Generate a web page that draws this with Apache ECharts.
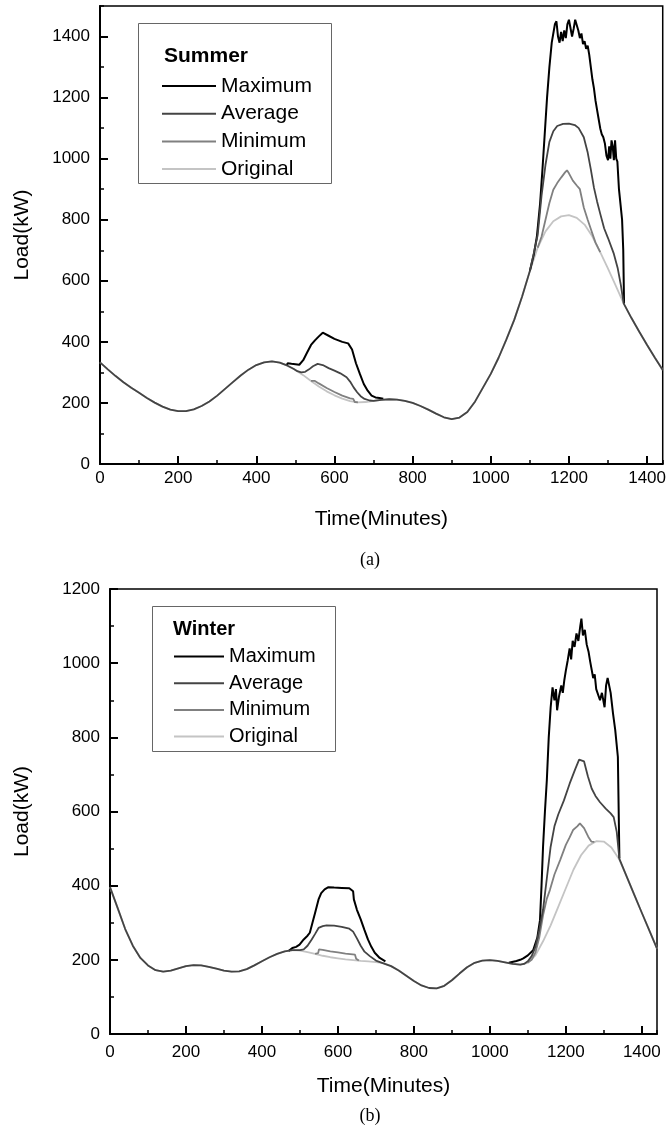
<!DOCTYPE html>
<html>
<head>
<meta charset="utf-8">
<script src="https://cdn.jsdelivr.net/npm/echarts@6/dist/echarts.min.js"></script>
<style>
html,body{margin:0;padding:0;background:#fff;}
#chart{width:669px;height:1126px;}
</style>
</head>
<body>
<div id="chart"></div>
<script>
// ---------- DATA ----------
const xTickLabels = ['0','200','400','600','800','1000','1200','1400'];
const seriesNames = ['Maximum','Average','Minimum','Original'];

// Summer (a)
const summerOrigT = [0,20,40,60,80,100,120,140,160,180,200,220,240,260,280,300,320,340,360,380,400,420,440,460,480,500,520,540,560,580,600,620,640,660,680,700,720,740,760,780,800,820,840,860,880,900,920,940,960,980,1000,1020,1040,1060,1080,1100,1120,1140,1160,1180,1200,1220,1240,1260,1280,1300,1320,1340,1360,1380,1400,1420,1440];
const summerOrigV = [333,310,288,268,250,233,216,201,188,178,173,173,179,190,205,224,246,268,290,309,324,333,336,332,322,308,291,272,254,238,225,214,206,202,203,207,210,212,211,207,200,190,178,165,153,147,152,170,205,250,295,348,408,472,548,632,708,762,795,811,815,806,784,745,694,640,583,526,478,433,390,348,308];

const summerAvgT = [0,20,40,60,80,100,120,140,160,180,200,220,240,260,280,300,320,340,360,380,400,420,440,460,480,495,505,515,525,535,545,557,570,585,600,615,631,640,649,658,667,677,690,700,720,740,760,780,800,820,840,860,880,900,920,940,960,980,1000,1020,1040,1060,1080,1100,1110,1120,1130,1140,1150,1160,1170,1185,1200,1215,1225,1238,1248,1256,1264,1272,1280,1290,1300,1315,1325,1333,1340,1360,1380,1400,1420,1440];
const summerAvgV = [333,310,288,268,250,233,216,201,188,178,173,173,179,190,205,224,246,268,290,309,324,333,336,332,322,312,304,300,302,310,320,328,324,314,306,297,284,270,251,235,222,213,208,207,210,212,211,207,200,190,178,165,153,147,152,170,205,250,295,348,408,472,548,632,690,750,880,980,1055,1090,1107,1114,1115,1110,1100,1070,1020,965,905,860,820,772,740,688,640,585,526,478,433,390,348,308];

const summerMinMidT = [540,545,550,560,580,600,620,640,648,652,660];
const summerMinMidV = [272,268,272,264,249,236,224,215,213,203,202];
const summerMinPeakT = [1120,1130,1140,1150,1160,1170,1180,1190,1195,1200,1210,1220,1228,1238,1248,1258,1268,1280];
const summerMinPeakV = [708,745,800,855,898,920,938,955,962,952,928,912,900,840,800,762,725,694];

const summerMaxMidT = [478,480,490,500,510,520,530,540,550,560,570,575,585,600,620,635,645,655,665,675,685,695,705,715,725];
const summerMaxMidV = [323,330,328,327,325,340,365,390,405,418,430,428,420,410,400,395,375,330,295,262,240,224,218,216,214];
const summerMaxPeakT = [1100,1110,1118,1126,1132,1138,1144,1150,1156,1160,1164,1168,1172,1176,1180,1184,1188,1192,1196,1200,1204,1208,1212,1216,1220,1224,1228,1232,1236,1240,1244,1248,1252,1256,1260,1264,1268,1272,1276,1280,1284,1288,1292,1296,1300,1303,1306,1309,1312,1315,1318,1321,1324,1328,1332,1336,1339,1341];
const summerMaxPeakV = [632,685,745,850,960,1080,1200,1300,1380,1410,1440,1450,1400,1380,1415,1385,1420,1395,1440,1455,1450,1400,1425,1455,1450,1420,1395,1410,1375,1385,1360,1370,1340,1300,1260,1230,1190,1160,1130,1100,1080,1070,1050,1010,995,1040,1000,1060,1040,995,1060,1000,990,900,850,800,700,526];

// Winter (b)
const winterOrigT = [0,20,40,60,80,100,120,140,160,180,200,220,240,260,280,300,320,340,360,380,400,420,440,460,480,500,520,540,560,580,600,620,640,660,680,700,720,740,760,780,800,820,840,860,880,900,920,940,960,980,1000,1020,1040,1060,1080,1100,1120,1140,1160,1180,1200,1220,1240,1260,1280,1300,1320,1340,1360,1380,1400,1420,1440];
const winterOrigV = [396,340,283,238,205,185,172,168,171,177,183,186,185,181,176,171,168,169,175,185,196,207,216,223,226,225,221,216,211,207,204,201,199,197,196,194,191,183,171,157,143,131,124,123,130,145,163,180,192,198,199,197,193,189,187,192,212,250,293,343,393,443,482,508,520,519,503,472,425,376,327,279,230];

const winterAvgT = [0,20,40,60,80,100,120,140,160,180,200,220,240,260,280,300,320,340,360,380,400,420,440,460,480,500,510,520,531,540,549,560,570,590,610,630,640,650,660,670,684,700,716,740,760,780,800,820,840,860,880,900,920,940,960,980,1000,1020,1040,1060,1080,1090,1100,1110,1120,1130,1140,1150,1160,1170,1180,1195,1210,1225,1235,1240,1248,1258,1268,1278,1290,1305,1318,1326,1334,1341,1360,1380,1400,1420,1440];
const winterAvgV = [396,340,283,238,205,185,172,168,171,177,183,186,185,181,176,171,168,169,175,185,196,207,216,223,226,226,228,238,255,270,286,291,293,292,289,284,276,258,238,222,210,198,192,183,171,157,143,131,124,123,130,145,163,180,192,198,199,197,193,189,187,189,196,210,235,280,335,420,505,560,592,630,675,715,740,745,735,695,662,642,625,608,595,585,545,472,425,376,327,279,230];

const winterMinMidT = [540,548,550,560,580,600,620,645,648,655];
const winterMinMidV = [216,218,228,227,223,220,217,214,203,198];
const winterMinPeakT = [1100,1110,1120,1130,1140,1150,1158,1170,1185,1200,1210,1219,1230,1237,1242,1248,1253,1259,1267,1275];
const winterMinPeakV = [193,200,220,260,320,365,388,430,469,510,530,550,560,568,565,555,560,532,519,518];

const winterMaxMidT = [470,480,490,499,510,520,526,533,540,549,556,565,575,590,610,630,640,642,650,660,670,679,688,697,710,725];
const winterMaxMidV = [224,232,235,241,255,265,273,300,327,363,380,390,396,395,394,393,385,363,335,309,280,255,235,219,205,196];
const winterMaxPeakT = [1050,1055,1070,1080,1088,1100,1114,1125,1132,1136,1140,1145,1150,1155,1160,1165,1170,1174,1177,1182,1188,1192,1196,1200,1205,1210,1214,1218,1223,1228,1233,1238,1241,1245,1250,1255,1260,1264,1267,1272,1276,1280,1285,1290,1295,1302,1306,1310,1315,1318,1324,1330,1337,1341];
const winterMaxPeakV = [192,196,197,200,204,212,226,260,307,400,505,600,685,800,880,935,900,930,873,910,940,920,954,980,1008,1040,1010,1060,1044,1080,1060,1100,1120,1075,1090,1050,1030,1005,1008,960,970,930,927,900,920,881,940,960,962,920,866,820,747,474];

// ---------- CHART ----------
const FONT = '"Liberation Sans", Arial, sans-serif';
const colors = {Maximum:'#000000', Average:'#444444', Minimum:'#808080', Original:'#c4c4c4'};
const widths = {Maximum:2, Average:1.8, Minimum:1.8, Original:1.8};
const plain = v => String(v);

function pairs(t, v){ return t.map((x,i)=>[x, v[i]]); }
function line(name, t, v, idx){
  return {type:'line', name:name, data:pairs(t,v), xAxisIndex:idx, yAxisIndex:idx,
    symbol:'none', showSymbol:false, animation:false,
    lineStyle:{color:colors[name], width:widths[name]}, itemStyle:{color:colors[name]}};
}

function majorX(gi, nameGap, labelMargin){
  return {type:'value', gridIndex:gi, min:0, max:1440, interval:200, position:'bottom',
    name:'Time(Minutes)', nameLocation:'middle', nameGap:nameGap,
    nameTextStyle:{fontFamily:FONT, fontSize:21, color:'#000'},
    axisLine:{onZero:false, lineStyle:{color:'#000', width:2}},
    axisTick:{inside:true, length:8, lineStyle:{color:'#000', width:2}},
    axisLabel:{color:'#000', fontFamily:FONT, fontSize:17, margin:labelMargin, showMaxLabel:false, formatter:plain},
    splitLine:{show:false}};
}
function minorX(gi){
  return {type:'value', gridIndex:gi, min:0, max:1440, interval:100, position:'bottom', offset:0,
    axisLine:{show:false}, axisTick:{inside:true, length:4, lineStyle:{color:'#000', width:1.5}},
    axisLabel:{show:false}, splitLine:{show:false}};
}
function majorY(gi, max, nameGap, showMax){
  return {type:'value', gridIndex:gi, min:0, max:max, interval:200, position:'left',
    name:'Load(kW)', nameLocation:'middle', nameGap:nameGap, nameRotate:90,
    nameTextStyle:{fontFamily:FONT, fontSize:21, color:'#000'},
    axisLine:{onZero:false, lineStyle:{color:'#000', width:2}},
    axisTick:{inside:true, length:8, lineStyle:{color:'#000', width:2}},
    axisLabel:{color:'#000', fontFamily:FONT, fontSize:17, margin:10, showMaxLabel:showMax, formatter:plain},
    splitLine:{show:false}};
}
function minorY(gi, max){
  return {type:'value', gridIndex:gi, min:0, max:max, interval:100, position:'left', offset:0,
    axisLine:{show:false}, axisTick:{inside:true, length:4, lineStyle:{color:'#000', width:1.5}},
    axisLabel:{show:false}, splitLine:{show:false}};
}

const series = [
  line('Original', summerOrigT, summerOrigV, 0),
  line('Minimum', summerMinMidT, summerMinMidV, 0),
  line('Minimum', summerMinPeakT, summerMinPeakV, 0),
  line('Maximum', summerMaxMidT, summerMaxMidV, 0),
  line('Maximum', summerMaxPeakT, summerMaxPeakV, 0),
  line('Average', summerAvgT, summerAvgV, 0),
  line('Original', winterOrigT, winterOrigV, 2),
  line('Minimum', winterMinMidT, winterMinMidV, 2),
  line('Minimum', winterMinPeakT, winterMinPeakV, 2),
  line('Maximum', winterMaxMidT, winterMaxMidV, 2),
  line('Maximum', winterMaxPeakT, winterMaxPeakV, 2),
  line('Average', winterAvgT, winterAvgV, 2)
];

const chart = echarts.init(document.getElementById('chart'), null, {renderer:'canvas'});
chart.setOption({
  backgroundColor:'#fff',
  animation:false,
  grid:[
    {left:100, top:6, width:567, height:458, show:true, borderColor:'#000', borderWidth:1.5, backgroundColor:'transparent'},
    {left:110, top:589, width:547, height:445, show:true, borderColor:'#000', borderWidth:1.5, backgroundColor:'transparent'}
  ],
  xAxis:[majorX(0, 45, 6), minorX(0), majorX(1, 42, 10), minorX(1)],
  yAxis:[majorY(0, 1500, 67, false), minorY(0, 1500), majorY(1, 1200, 77, true), minorY(1, 1200)],
  legend:[
    {data:seriesNames, orient:'vertical', left:162, top:75, padding:0, itemGap:5.7,
     icon:'rect', itemWidth:54, itemHeight:2, selectedMode:false,
     textStyle:{fontFamily:FONT, fontSize:21, lineHeight:22, color:'#000'}},
    {data:seriesNames, orient:'vertical', left:174, top:646, padding:0, itemGap:5.7,
     icon:'rect', itemWidth:50, itemHeight:2, selectedMode:false,
     textStyle:{fontFamily:FONT, fontSize:20, lineHeight:21, color:'#000'}}
  ],
  graphic:[
    {type:'rect', shape:{x:138.5, y:23.5, width:193, height:160}, style:{fill:null, stroke:'#666', lineWidth:1}, z:10},
    {type:'text', left:164, top:46, style:{text:'Summer', font:'bold 21px "Liberation Sans", Arial, sans-serif', fill:'#000'}, z:10},
    {type:'rect', shape:{x:152.5, y:606.5, width:183, height:145}, style:{fill:null, stroke:'#666', lineWidth:1}, z:10},
    {type:'text', left:173, top:619, style:{text:'Winter', font:'bold 20px "Liberation Sans", Arial, sans-serif', fill:'#000'}, z:10},
    {type:'text', x:370, y:560, style:{text:'(a)', font:'18px "Liberation Serif", "Times New Roman", serif', fill:'#000', align:'center', verticalAlign:'middle'}},
    {type:'text', x:370, y:1116, style:{text:'(b)', font:'18px "Liberation Serif", "Times New Roman", serif', fill:'#000', align:'center', verticalAlign:'middle'}}
  ],
  series:series
});
</script>
</body>
</html>
